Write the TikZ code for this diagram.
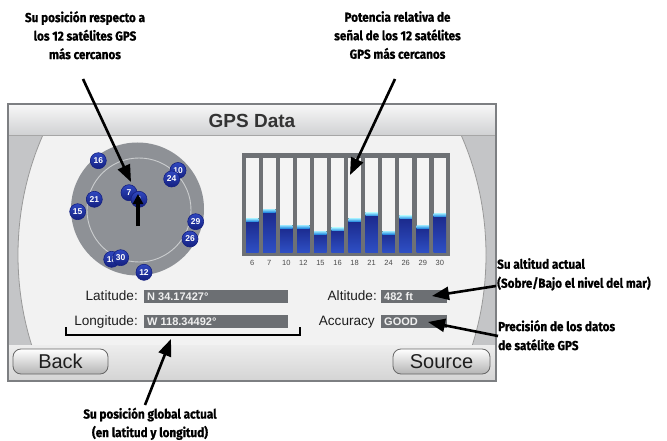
\documentclass[tikz,border=0pt]{standalone}
\usepackage{fontspec}
\setmainfont{Liberation Sans}
\newfontfamily\labfont[FakeStretch=0.9,FakeBold=0.8]{Fira Sans}
\usetikzlibrary{arrows.meta}
\definecolor{panelborder}{HTML}{7D7F82}
\definecolor{titletop}{HTML}{F8F8F8}
\definecolor{titlebot}{HTML}{D0D1D3}
\definecolor{bodygray}{HTML}{C4C5C7}
\definecolor{bodywhite}{HTML}{F2F2F2}
\definecolor{striptop}{HTML}{EDEDED}
\definecolor{stripbot}{HTML}{D4D4D4}
\definecolor{radargray}{HTML}{8E9196}
\definecolor{ringc}{HTML}{CBCDCF}
\definecolor{satlight}{HTML}{3048C0}
\definecolor{satdark}{HTML}{142080}
\definecolor{framec}{HTML}{6E7175}
\definecolor{slotc}{HTML}{F4F4F4}
\definecolor{bardark}{HTML}{1A2788}
\definecolor{barlight}{HTML}{2E4FC4}
\definecolor{cyanl}{HTML}{9AE8FF}
\definecolor{cyand}{HTML}{2A8EE2}
\definecolor{fieldc}{HTML}{6C6F73}
\definecolor{fieldtxt}{HTML}{F0F0F0}
\definecolor{scrtxt}{HTML}{1E1E1E}
\definecolor{numc}{HTML}{4A4A4A}
\tikzset{
  lab/.style={font={\labfont\bfseries\fontsize{13}{18.5}\selectfont}, align=center, inner sep=0pt, text=black},
  labl/.style={font={\labfont\bfseries\fontsize{13}{19}\selectfont}, align=left, inner sep=0pt, text=black},
  ann/.style={line width=2.6pt, draw=black, -{Triangle[length=17pt,width=13pt]}},
  scr/.style={font=\fontsize{13.6}{14}\selectfont, text=scrtxt, inner sep=0pt},
  fieldtext/.style={font=\bfseries\fontsize{11}{12}\selectfont, text=fieldtxt, inner sep=0pt},
  sat/.style={circle, minimum size=16pt, inner sep=0pt, top color=satlight, bottom color=satdark, draw=satdark, line width=0.6pt, text=white, font=\bfseries\fontsize{8.5}{9}\selectfont},
  barnum/.style={font=\fontsize{7.5}{8}\selectfont, text=numc, inner sep=0pt},
  btn/.style={rounded corners=8pt, top color=white, bottom color=stripbot!85!black, draw=black!60, line width=0.8pt},
}
\begin{document}
\begin{tikzpicture}[x=1pt,y=-1pt]
\useasboundingbox (0,0) rectangle (667,441);
\fill[white] (0,0) rectangle (667,441);
% body
\begin{scope}
  \clip (8,135) rectangle (496,345);
  \fill[bodygray] (8,135) rectangle (496,345);
  \fill[bodywhite] (252,255) ellipse [x radius=234, y radius=267];
  \draw[black!40, line width=0.8pt] (252,255) ellipse [x radius=234, y radius=267];
\end{scope}
% title bar
\fill[top color=titletop, bottom color=titlebot] (8,104) rectangle (496,135);
\draw[black!35, line width=0.8pt] (8,135) -- (496,135);
\node[font=\bfseries\fontsize{19}{20}\selectfont, text=black!80, anchor=base, inner sep=0pt] (title) at (252,127.3) {GPS Data};
% bottom strip
\fill[top color=striptop, bottom color=stripbot] (8,345) rectangle (496,381);
\draw[panelborder, line width=1.2pt] (8,104) rectangle (496,381);
% buttons
\draw[btn] (13,349) rectangle (108,374);
\node[font=\fontsize{20}{20}\selectfont, text=scrtxt, anchor=base, inner sep=0pt] (back) at (60.5,368) {Back};
\draw[btn] (393,349) rectangle (490,374);
\node[font=\fontsize{20}{20}\selectfont, text=scrtxt, anchor=base, inner sep=0pt] (source) at (441.5,368) {Source};
% radar
\fill[radargray] (137.5,209) circle [radius=66.5];
\draw[ringc, line width=0.9pt] (139,210) circle [radius=52];
\foreach \n/\x/\y in {16/98.3/160.7, 10/178/170.5, 24/171.7/179, 21/94.3/199.3, 15/77.7/211.7, 29/195.7/221.7, 26/190/239, 18/111.7/259.3, 30/120.7/257.7, 12/144/272.3, 7/129/192.7, 6/139/199.3}
  \node[sat] (s\n) at (\x,\y) {\n};
\coordinate (ptail) at (138,226);
\coordinate (phead) at (138,194);
\draw[line width=4pt, -{Triangle[length=10pt,width=10pt]}] (ptail) -- (phead);
% bar chart
\fill[framec] (242,153) rectangle (450,256);
\foreach \i/\n/\t in {0/6/218.3, 1/7/209, 2/10/225, 3/12/225, 4/15/231, 5/16/227.7, 6/18/218.3, 7/21/212.7, 8/24/231, 9/26/215.7, 10/29/225, 11/30/213.3} {
  \pgfmathsetmacro\xl{246+17.05*\i}
  \pgfmathsetmacro\xr{\xl+12.5}
  \fill[slotc] (\xl,158) rectangle (\xr,252);
  \fill[top color=bardark, bottom color=barlight] (\xl,\t) rectangle (\xr,252);
  \fill[top color=cyanl, bottom color=cyand] (\xl,\t) rectangle (\xr,\t+3);
  \node[barnum] (n\n) at ({\xl+6.25},263) {\n};
}
\coordinate (barpt) at (350,175);
% fields
\node[scr, anchor=base east] (latl) at (138,300.5) {Latitude:};
\node[scr, anchor=base east] (lonl) at (138,325.5) {Longitude:};
\node[scr, anchor=base east] (altl) at (377,300.5) {Altitude:};
\node[scr, anchor=base east] (accl) at (375,325.5) {Accuracy};
\fill[fieldc] (144,290) rectangle (288,303);
\fill[fieldc] (144,315) rectangle (288,328);
\fill[fieldc] (381,290) rectangle (447,303);
\fill[fieldc] (381,315) rectangle (447,328);
\node[fieldtext, anchor=base west] (latv) at (147,300.5) {N 34.17427°};
\node[fieldtext, anchor=base west] (lonv) at (147,325.5) {W 118.34492°};
\node[fieldtext, anchor=base west] (altv) at (384,300.5) {482 ft};
\node[fieldtext, anchor=base west] (accv) at (384,325.5) {GOOD};
% bracket
\coordinate (brl) at (66,327);
\coordinate (brr) at (300,327);
\draw[black, line width=1.4pt] (brl) -- (66,335) -- (300,335) -- (brr);
\coordinate (brpt) at (171,339);
\coordinate (altpt) at (432,296);
\coordinate (accpt) at (428,322);
\coordinate (radpt) at (131,182);
% labels
\node[lab, anchor=north] (l1) at (85,11) {Su posición respecto a\\los 12 satélites GPS\\más cercanos};
\node[lab, anchor=north] (l2) at (397.5,11) {Potencia relativa de\\señal de los 12 satélites\\GPS más cercanos};
\node[lab, anchor=north] (l3) at (150,407.5) {Su posición global actual\\(en latitud y longitud)};
\node[labl, anchor=north west] (l4) at (497,258) {Su altitud actual\\(Sobre/Bajo el nivel del mar)};
\node[labl, anchor=north west] (l5) at (498,320) {Precisión de los datos\\de satélite GPS};
% annotation arrows
\coordinate (t1) at (83,79);
\coordinate (t2) at (395,79);
\coordinate (t3) at (145,405);
\coordinate (t4) at (496,286);
\coordinate (t5) at (498,336);
\draw[ann] (t1) -- (radpt);
\draw[ann] (t2) -- (barpt);
\draw[ann] (t3) -- (brpt);
\draw[ann] (t4) -- (altpt);
\draw[ann] (t5) -- (accpt);
\end{tikzpicture}
\end{document}
